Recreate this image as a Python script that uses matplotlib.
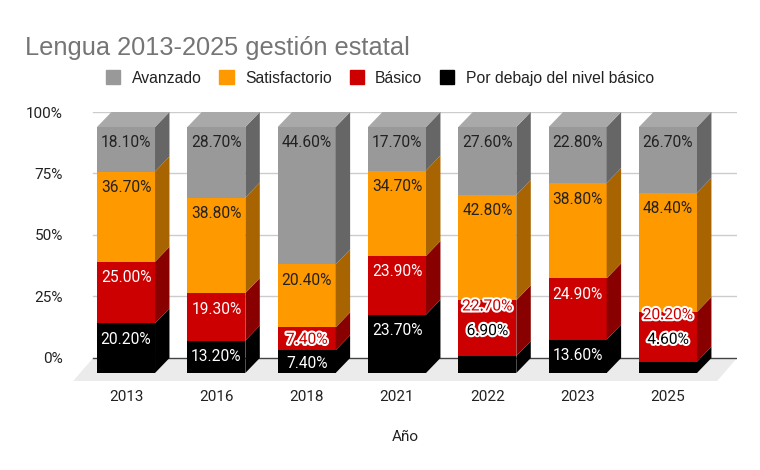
import numpy as np
import matplotlib
matplotlib.use("Agg")
import matplotlib.pyplot as plt
from matplotlib.patches import Polygon, Patch
import matplotlib.patheffects as pe

years = ["2013", "2016", "2018", "2021", "2022", "2023", "2025"]
series = ["Por debajo del nivel básico", "Básico", "Satisfactorio", "Avanzado"]
debajo = [20.2, 13.2, 7.4, 23.7, 6.9, 13.6, 4.6]
basico = [25.0, 19.3, 7.4, 23.9, 22.7, 24.9, 20.2]
satisf = [36.7, 38.8, 20.4, 34.7, 42.8, 38.8, 48.4]
avanz = [18.1, 28.7, 44.6, 17.7, 27.6, 22.8, 26.7]
yticks = [0, 25, 50, 75, 100]

front_col = ["#000000", "#cc0000", "#ff9900", "#999999"]
side_col = ["#000000", "#880000", "#a86400", "#666666"]
top_col = "#a9a9a9"
text_col = ["white", "white", "#222222", "#222222"]

# depth of the fake 3d look, in data units
dx = 0.16
dz = 6.1
w = 0.642
fdx = 0.22
fdz = 9.35

plt.rcParams['font.family'] = ['Roboto', 'DejaVu Sans']

fig = plt.figure(figsize=(7.6, 4.7), dpi=100)
ax = fig.add_axes([73/760, 1-381/470, (737-73)/760, (381-112)/470])
ax.set_xlim(-0.587, 6.764)
ax.set_ylim(-fdz, 100)
for s in ax.spines.values():
    s.set_visible(False)

x = np.arange(len(years))
data = np.array([debajo, basico, satisf, avanz])
norm = data / data.sum(axis=0) * 100

# floor and back grid
xl, xr = -0.365, 6.764
ax.add_patch(Polygon([(xl, 0), (xr, 0), (xr - fdx, -fdz), (xl - fdx, -fdz)],
                     closed=True, color="#ebebeb", lw=0, zorder=0))
for t in yticks:
    ax.plot([xl, xr], [t, t], color="#444444" if t == 0 else "#cccccc", lw=1, zorder=1)

for i in range(len(years)):
    cum = 0
    prev_label = None
    for k in range(4):
        h = norm[k, i]
        y0 = cum - dz
        y1 = cum + h - dz
        xa = x[i] - w/2
        xb = x[i] + w/2
        ax.add_patch(Polygon([(xa, y0), (xb, y0), (xb, y1), (xa, y1)],
                             closed=True, color=front_col[k], lw=0, zorder=3))
        ax.add_patch(Polygon([(xb, y0), (xb + dx, y0 + dz), (xb + dx, y1 + dz), (xb, y1)],
                             closed=True, color=side_col[k], lw=0, zorder=3))
        if k == 3:
            ax.add_patch(Polygon([(xa, y1), (xa + dx, y1 + dz), (xb + dx, y1 + dz), (xb, y1)],
                                 closed=True, color=top_col, lw=0, zorder=3))

        # label near the top of each segment, pushed up when they collide
        halo = False
        ly = max(cum + h - 6.5, 3.7)
        if k == 0 and h < 8:
            ly = cum + h + norm[1, i] / 2 - 1
            halo = True
        elif prev_label is not None and ly < prev_label + 10:
            ly = prev_label + 10
            halo = True
        prev_label = ly
        if halo:
            ax.text(x[i], ly - dz, f"{data[k, i]:.2f}%", ha="center", va="center",
                    fontsize=11.2, color=front_col[k], zorder=5,
                    path_effects=[pe.withStroke(linewidth=3, foreground="white")])
        else:
            ax.text(x[i], ly - dz, f"{data[k, i]:.2f}%", ha="center", va="center",
                    fontsize=11.2, color=text_col[k], zorder=5)
        cum += h

ax.set_yticks(yticks, [f"{t}%" for t in yticks])
ax.set_xticks(x, years)
ax.tick_params(axis="y", length=0, pad=7.2, labelsize=11, labelcolor="#222222")
ax.tick_params(axis="x", length=0, pad=6.5, labelsize=11, labelcolor="#222222")

fig.text(25/760, 1-55/470, "Lengua 2013-2025 gestión estatal", fontsize=18.3,
         color="#757575", family=["Liberation Sans", "DejaVu Sans"], va="baseline")
fig.text(405/760, 1-437/470, "Año", fontsize=11, color="#222222",
         ha="center", va="center")

handles = [Patch(color=front_col[k], label=series[k]) for k in [3, 2, 1, 0]]
fig.legend(handles=handles, loc="center", bbox_to_anchor=(380/760, 1-78/470), ncol=4,
           frameon=False, handlelength=0.9, handleheight=1.0, handletextpad=0.72,
           columnspacing=1.15, prop={"family": ["Liberation Sans", "DejaVu Sans"], "size": 11.3},
           labelcolor="#222222")

fig.savefig("out.png", dpi=100)
